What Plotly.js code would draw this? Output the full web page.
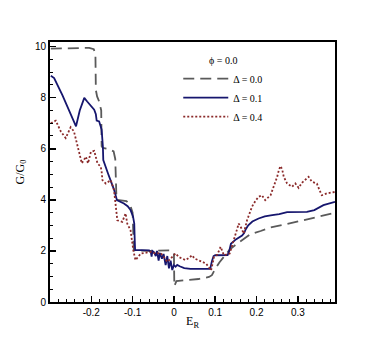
<!DOCTYPE html>
<html>
<head>
<meta charset="utf-8">
<script src="https://cdn.plot.ly/plotly-3.0.1.min.js"></script>
<style>
  html, body { margin: 0; padding: 0; background: #fff; }
  #chart { width: 382px; height: 340px; }
</style>
</head>
<body>
<div id="chart"></div>
<script>
// Delta = 0.0 (dashed gray)
const erD0 = [-0.298, -0.205, -0.194, -0.190, -0.189, -0.186, -0.181, -0.176, -0.175, -0.172,
  -0.160, -0.146, -0.142, -0.141, -0.139, -0.115, -0.106, -0.100, -0.098, -0.097,
  -0.060, -0.030, -0.010, -0.002, 0.000, 0.001, 0.006, 0.030, 0.060, 0.085,
  0.092, 0.100, 0.110, 0.125, 0.135, 0.150, 0.170, 0.185, 0.210, 0.234,
  0.270, 0.298, 0.330, 0.354, 0.390];
const gD0 = [9.92, 9.95, 9.9, 9.7, 8.3, 8.05, 7.85, 7.5, 6.1, 6.03,
  6.0, 5.9, 5.6, 4.3, 4.0, 3.95, 3.8, 3.5, 2.6, 2.02,
  2.0, 2.02, 2.02, 1.95, 1.9, 0.62, 0.82, 0.86, 0.9, 0.98,
  1.05, 1.3, 1.55, 1.85, 2.05, 2.25, 2.48, 2.65, 2.78, 2.92,
  3.04, 3.14, 3.26, 3.36, 3.49];

// Delta = 0.1 (solid navy)
const erD1 = [-0.298, -0.29, -0.27, -0.255, -0.237, -0.228, -0.217, -0.21, -0.201, -0.193,
  -0.189, -0.187, -0.181, -0.177, -0.175, -0.172, -0.171, -0.16, -0.15, -0.145,
  -0.138, -0.13, -0.121, -0.112, -0.105, -0.099, -0.096, -0.095, -0.094, -0.08,
  -0.06, -0.056, -0.054, -0.052, -0.048, -0.044, -0.041, -0.037, -0.034, -0.029,
  -0.025, -0.02, -0.016, -0.012, -0.008, -0.004, 0.0, 0.004, 0.008, 0.014,
  0.025, 0.04, 0.06, 0.08, 0.088, 0.092, 0.096, 0.1, 0.115, 0.13,
  0.134, 0.138, 0.15, 0.165, 0.17, 0.174, 0.18, 0.19, 0.205, 0.22,
  0.238, 0.255, 0.274, 0.3, 0.322, 0.34, 0.362, 0.39];
const gD1 = [8.86, 8.77, 8.1, 7.55, 6.88, 7.5, 7.99, 7.85, 7.66, 7.53,
  7.35, 7.1, 7.07, 6.9, 6.75, 6.1, 5.56, 5.05, 4.6, 4.4,
  3.99, 3.93, 3.86, 3.75, 3.6, 3.35, 3.07, 2.5, 2.03, 2.03,
  2.02, 1.95, 1.78, 2.0, 1.95, 1.8, 2.0, 1.62, 1.92, 1.7,
  1.88, 1.45, 1.8, 1.32, 1.62, 1.25, 1.45, 1.38, 1.45, 1.4,
  1.33, 1.3, 1.29, 1.29, 1.3, 1.6, 1.8, 1.83, 1.83, 1.84,
  2.0, 2.28, 2.45, 2.6, 2.7, 2.85, 3.0, 3.15, 3.27, 3.35,
  3.4, 3.44, 3.52, 3.53, 3.53, 3.6, 3.79, 3.92];

// Delta = 0.4 (dotted red)
const erD4 = [-0.298, -0.286, -0.274, -0.262, -0.25, -0.242, -0.229, -0.223, -0.213, -0.208,
  -0.201, -0.193, -0.185, -0.177, -0.175, -0.173, -0.165, -0.153, -0.145, -0.137,
  -0.125, -0.117, -0.113, -0.105, -0.098, -0.093, -0.08, -0.068, -0.056, -0.045,
  -0.032, -0.024, -0.016, -0.008, 0.0, 0.004, 0.012, 0.02, 0.028, 0.036,
  0.044, 0.05, 0.057, 0.069, 0.078, 0.085, 0.09, 0.097, 0.105, 0.113,
  0.121, 0.135, 0.145, 0.151, 0.157, 0.163, 0.169, 0.177, 0.189, 0.197,
  0.205, 0.213, 0.221, 0.234, 0.242, 0.25, 0.254, 0.258, 0.262, 0.266,
  0.274, 0.286, 0.294, 0.302, 0.31, 0.318, 0.326, 0.334, 0.346, 0.352,
  0.358, 0.37, 0.39];
const gD4 = [7.0, 7.1, 6.68, 6.42, 6.84, 6.68, 5.83, 5.43, 5.69, 5.43,
  5.88, 5.92, 5.43, 5.29, 5.1, 4.77, 4.64, 4.77, 4.38, 3.2,
  3.14, 3.47, 3.07, 2.81, 2.0, 1.64, 1.9, 1.92, 1.96, 1.9,
  1.92, 1.75, 1.57, 1.7, 1.83, 1.9, 1.76, 1.7, 1.64, 1.72,
  1.83, 1.7, 1.64, 1.57, 1.5, 1.37, 1.24, 1.76, 1.85, 2.16,
  1.83, 1.9, 2.42, 2.75, 3.07, 2.9, 2.68, 3.2, 3.73, 3.95,
  4.12, 4.18, 3.99, 4.18, 4.51, 4.9, 5.16, 5.32, 5.2, 4.9,
  4.64, 4.51, 4.64, 4.47, 4.67, 4.8, 4.9, 4.71, 4.64, 4.4,
  4.18, 4.25, 4.31];

const xTickVals = [-0.2, -0.1, 0, 0.1, 0.2, 0.3];
const xTickText = ['-0.2', '-0.1', '0', '0.1', '0.2', '0.3'];
const yTickVals = [0, 2, 4, 6, 8, 10];
const yTickText = ['0', '2', '4', '6', '8', '10'];

const SERIF = 'Liberation Serif, Times New Roman, serif';
const SANS = 'Liberation Sans, Arial, sans-serif';

const traces = [
  {
    x: erD0, y: gD0, type: 'scatter', mode: 'lines', name: '\u0394 = 0.0',
    line: { color: '#5a5a5a', width: 1.8, dash: '11px,6px' }
  },
  {
    x: erD1, y: gD1, type: 'scatter', mode: 'lines', name: '\u0394 = 0.1',
    line: { color: '#16166e', width: 1.8 }
  },
  {
    x: erD4, y: gD4, type: 'scatter', mode: 'lines', name: '\u0394 = 0.4',
    line: { color: '#8b2a2a', width: 1.8, dash: '2px,2px' }
  }
];

const axisCommon = {
  showline: true, linecolor: '#000', linewidth: 2, mirror: true,
  showgrid: false, zeroline: false,
  ticks: 'inside', ticklen: 6, tickwidth: 1.5, tickcolor: '#000',
  tickfont: { family: SANS, size: 10, color: '#000' }
};

const layout = {
  width: 382, height: 340,
  margin: { l: 50, r: 47, t: 42, b: 38 },
  paper_bgcolor: '#fff', plot_bgcolor: '#fff',
  showlegend: true,
  legend: {
    x: 0.45, y: 0.965, xanchor: 'left', yanchor: 'top',
    bgcolor: 'rgba(0,0,0,0)', borderwidth: 0,
    itemwidth: 45,
    font: { family: SERIF, size: 10, color: '#000' },
    title: { text: '\u03d5 = 0.0', side: 'top center', font: { family: SERIF, size: 10, color: '#000' } },
    tracegroupgap: 0
  },
  xaxis: Object.assign({}, axisCommon, {
    range: [-0.3, 0.39],
    tickmode: 'array', tickvals: xTickVals, ticktext: xTickText,
    minor: { dtick: 0.02, tick0: 0, ticks: 'inside', ticklen: 3, tickwidth: 1, tickcolor: '#000' },
    title: { text: 'E<sub>R</sub>', font: { family: SERIF, size: 12, color: '#000' }, standoff: 0 }
  }),
  yaxis: Object.assign({}, axisCommon, {
    range: [0, 10.18],
    tickmode: 'array', tickvals: yTickVals, ticktext: yTickText,
    minor: { dtick: 0.5, tick0: 0, ticks: 'inside', ticklen: 3, tickwidth: 1, tickcolor: '#000' },
    title: { text: 'G/G<sub>0</sub>', font: { family: SERIF, size: 12, color: '#000' }, standoff: 8 }
  })
};

Plotly.newPlot('chart', traces, layout, { displayModeBar: false, staticPlot: true });
</script>
</body>
</html>
